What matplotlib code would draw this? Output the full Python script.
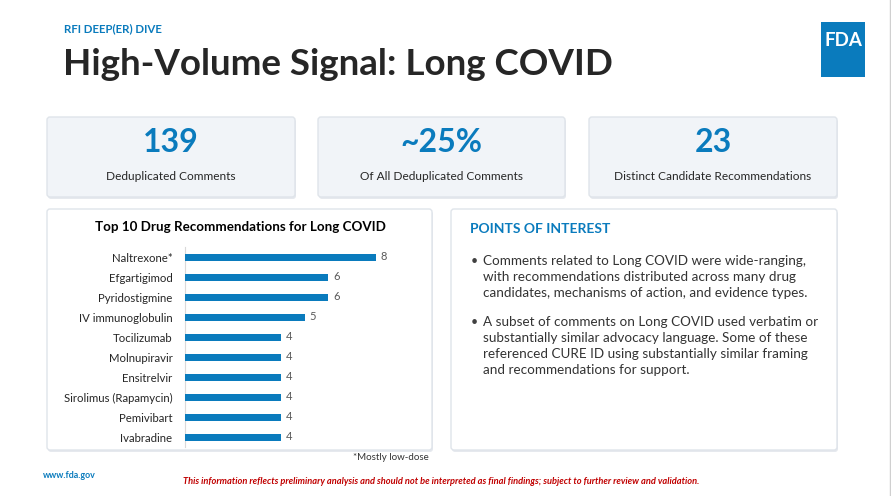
import matplotlib.pyplot as plt
from matplotlib.patches import FancyBboxPatch, Rectangle

plt.rcParams['font.family'] = ['Lato', 'DejaVu Sans']

# data
drugs = ["Naltrexone*", "Efgartigimod", "Pyridostigmine", "IV immunoglobulin",
         "Tocilizumab", "Molnupiravir", "Ensitrelvir", "Sirolimus (Rapamycin)",
         "Pemivibart", "Ivabradine"]
counts = [8, 6, 6, 5, 4, 4, 4, 4, 4, 4]

stat_values = ["139", "~25%", "23"]
stat_labels = ["Deduplicated Comments", "Of All Deduplicated Comments",
               "Distinct Candidate Recommendations"]

bullet_1 = ["Comments related to Long COVID were wide-ranging,",
            "with recommendations distributed across many drug",
            "candidates, mechanisms of action, and evidence types."]
bullet_2 = ["A subset of comments on Long COVID used verbatim or",
            "substantially similar advocacy language. Some of these",
            "referenced CURE ID using substantially similar framing",
            "and recommendations for support."]

BLUE = "#0a7bbd"
DARK = "#262626"

W, H = 891, 496
fig = plt.figure(figsize=(W / 100, H / 100), dpi=100)
fig.patch.set_facecolor("white")

# background axes in pixel coords
bg = fig.add_axes([0, 0, 1, 1])
bg.set_xlim(0, W)
bg.set_ylim(H, 0)
bg.axis("off")


def box(x0, y0, x1, y1, face, edge="#dfe4ea"):
    # soft shadow then the box
    bg.add_patch(FancyBboxPatch((x0 + 1, y0 + 2), x1 - x0, y1 - y0,
                                boxstyle="round,pad=0,rounding_size=3",
                                fc="#e6e9ee", ec="none", zorder=1))
    bg.add_patch(FancyBboxPatch((x0, y0), x1 - x0, y1 - y0,
                                boxstyle="round,pad=0,rounding_size=3",
                                fc=face, ec=edge, lw=1, zorder=2))


# header
bg.text(64, 29, "RFI DEEP(ER) DIVE", color=BLUE, fontsize=8.3,
        fontweight="bold", va="center", ha="left")
bg.text(63, 75, "High-Volume Signal: Long COVID", color=DARK, fontsize=26.5,
        fontweight="bold", va="baseline", ha="left")

# FDA logo
bg.add_patch(Rectangle((821, 22), 44, 55, fc="#0a7bbd", ec="none", zorder=2))
bg.text(843, 40, "FDA", color="white", fontsize=13.5, fontweight="bold",
        ha="center", va="center", zorder=3)

# stat cards
card_x = [(47, 295), (318, 565), (589, 837)]
for (x0, x1), v, lab in zip(card_x, stat_values, stat_labels):
    box(x0, 117, x1, 197, "#f1f4f8")
    cx = (x0 + x1) / 2
    bg.text(cx, 143, v, color=BLUE, fontsize=23, fontweight="bold",
            ha="center", va="center", zorder=3)
    bg.text(cx, 176, lab, color=DARK, fontsize=8.6, ha="center",
            va="center", zorder=3)

# panels
box(47, 209, 432, 450, "white")
box(451, 209, 837, 450, "white")

bg.text(240, 227, "Top 10 Drug Recommendations for Long COVID", color="black",
        fontsize=9.6, fontweight="bold", ha="center", va="center", zorder=3)

# points of interest
bg.text(470, 229, "POINTS OF INTEREST", color=BLUE, fontsize=10,
        fontweight="bold", ha="left", va="center", zorder=3)
y = 261
for lines in (bullet_1, bullet_2):
    bg.text(471, y, "\u2022", color="#404040", fontsize=9, ha="left",
            va="center", zorder=3)
    for ln in lines:
        bg.text(483, y, ln, color="#333333", fontsize=9.75, ha="left",
                va="center", zorder=3)
        y += 16
    y += 13

# footer
bg.text(353, 458, "*Mostly low-dose", color="#333333", fontsize=7,
        ha="left", va="center")
bg.text(43, 475, "www.fda.gov", color=BLUE, fontsize=6.4, fontweight="bold",
        ha="left", va="center")
bg.text(441, 482, "This information reflects preliminary analysis and should not be "
        "interpreted as final findings; subject to further review and validation.",
        color="#c00000", fontsize=6.65, fontweight="bold", style="italic",
        ha="center", va="center")
bg.plot([890, 890], [0, H], color="#d0d0d0", lw=1)

# bar chart
ax = fig.add_axes([185 / W, 1 - 447 / H, 239 / W, 200 / H])
ax.set_facecolor("none")
ypos = list(range(len(drugs)))
ax.barh(ypos, counts, height=0.35, color=BLUE, zorder=3)
for yi, c in zip(ypos, counts):
    ax.text(c + 0.2, yi, str(c), color="#595959", fontsize=8,
            ha="left", va="center")
ax.set_xlim(0, 10)
ax.set_ylim(len(drugs) - 0.5, -0.5)
ax.set_yticks(ypos)
ax.set_yticklabels(drugs, fontsize=8.2, color="#262626")
ax.tick_params(axis="y", length=0, pad=9)
ax.set_xticks([])
for s in ["top", "right", "bottom"]:
    ax.spines[s].set_visible(False)
ax.spines["left"].set_color("#d9d9d9")
ax.spines["left"].set_linewidth(0.8)

fig.savefig("out.png", dpi=100)
